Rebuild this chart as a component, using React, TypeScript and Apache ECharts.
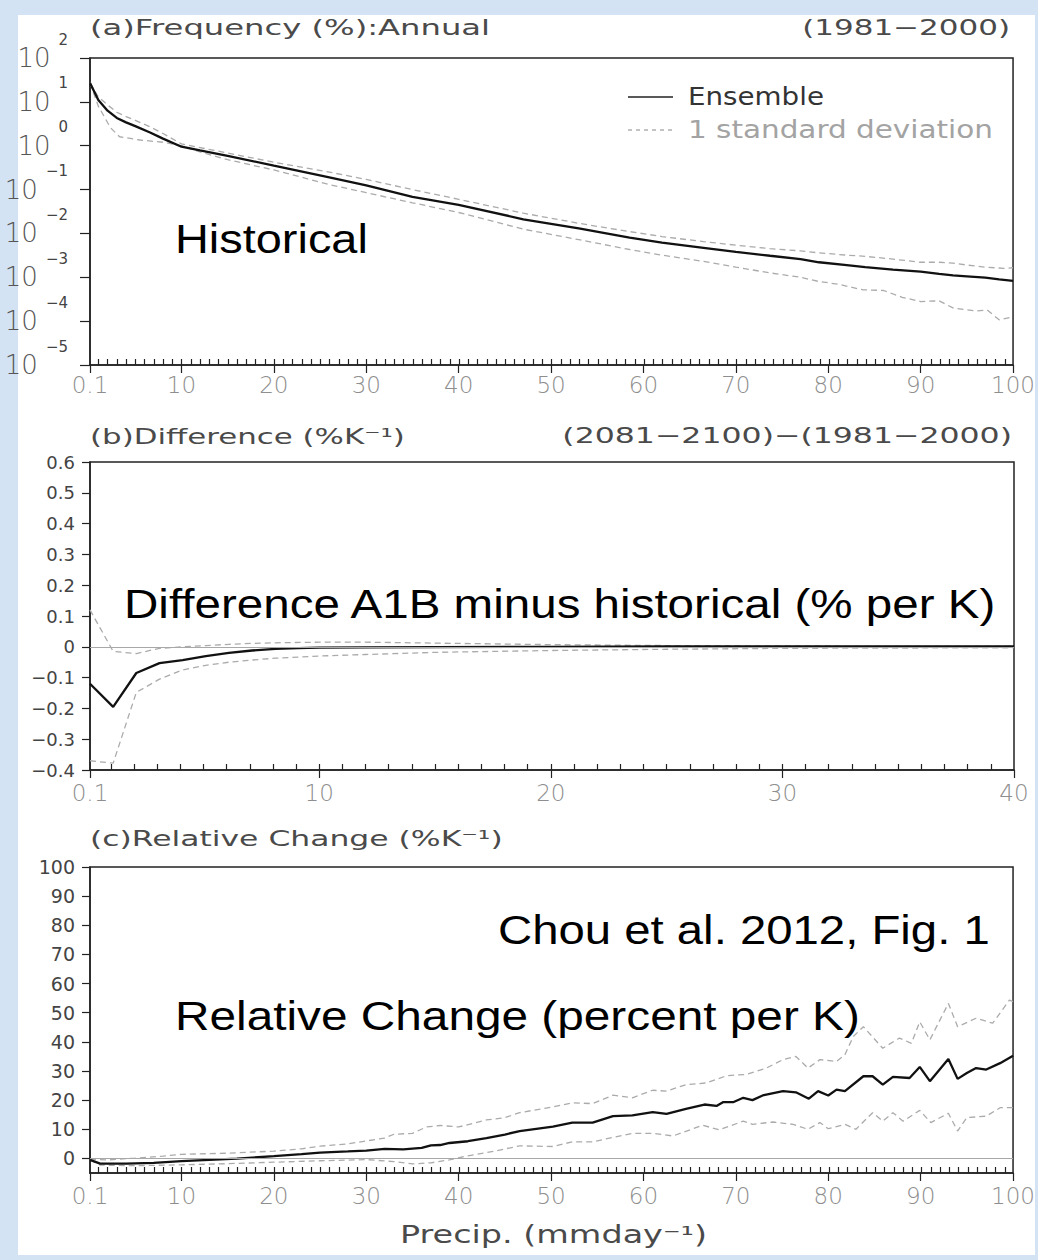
import React, { useEffect, useRef } from "react";
import * as echarts from "echarts";

// ---------- data ----------
// Panel (a): frequency (%) vs precip (mm/day), log scale
const freqEnsemble = [
  [0.1, 27], [1, 11], [2, 6.3], [3, 4.3], [4, 3.4], [5, 2.8], [6.6, 2.0], [8, 1.45], [10, 0.95],
  [12, 0.78], [15, 0.59], [20, 0.35], [26, 0.19], [30, 0.125], [35, 0.068], [40, 0.045],
  [47, 0.021], [53, 0.013], [58.5, 0.008], [62, 0.0062], [66.5, 0.0047], [70, 0.0038],
  [73.7, 0.0031], [77, 0.0026], [79, 0.0022], [82, 0.0019], [84, 0.0017], [87, 0.0015],
  [90, 0.00135], [92, 0.0012], [93.5, 0.0011], [95, 0.00105], [97, 0.00098], [98.5, 0.0009],
  [100, 0.00083],
];
const freqUpper = [
  [0.1, 27], [1, 13], [2, 8.5], [3, 5.8], [4, 4.6], [5, 3.8], [6.6, 2.7], [8, 1.9], [10, 1.1],
  [15, 0.68], [20, 0.42], [26, 0.25], [30, 0.17], [35, 0.1], [40, 0.06], [47, 0.029],
  [53, 0.017], [58.5, 0.011], [62, 0.0085], [66.5, 0.0065], [70, 0.0054], [73.7, 0.0045],
  [77, 0.004], [79, 0.0036], [82, 0.0032], [84, 0.003], [87, 0.0026], [90, 0.0022],
  [92, 0.0022], [93.5, 0.0021], [95, 0.0019], [97, 0.0017], [99, 0.0016], [100, 0.00165],
];
const freqLower = [
  [0.1, 27], [1, 8], [2.3, 2.6], [3.3, 1.6], [5.5, 1.35], [8, 1.2], [10, 1.0], [12, 0.72],
  [15, 0.48], [20, 0.28], [26, 0.13], [30, 0.085], [35, 0.05], [40, 0.03], [47, 0.0125],
  [53, 0.0072], [58.5, 0.0043], [62, 0.0032], [66.5, 0.0023], [70, 0.0017], [73.7, 0.00126],
  [77, 0.001], [79, 0.0008], [81, 0.0007], [83.7, 0.00052], [86, 0.0005], [88, 0.00035],
  [90, 0.00028], [92, 0.00029], [93.5, 0.0002], [96, 0.00017], [97.2, 0.00018],
  [98.5, 0.000107], [100, 0.000126],
];

// Panel (b): difference (% per K)
const diffEnsemble = [
  [0.1, -0.12], [1.1, -0.195], [2.1, -0.085], [3.1, -0.053], [4.1, -0.043], [5.1, -0.03],
  [6.1, -0.02], [7.1, -0.012], [8.1, -0.007], [9.1, -0.004], [10, -0.003], [12, -0.002],
  [15, -0.001], [20, 0], [25, 0.001], [30, 0.001], [35, 0.001], [40, 0.001],
];
const diffUpper = [
  [0.1, 0.12], [1.1, -0.015], [2.1, -0.022], [3.1, -0.005], [4.1, 0.0], [5.1, 0.004],
  [6.1, 0.008], [7.1, 0.011], [8.1, 0.013], [10, 0.015], [12, 0.015], [15, 0.012],
  [18, 0.009], [20, 0.007], [25, 0.004], [30, 0.003], [35, 0.002], [40, 0.002],
];
const diffLower = [
  [0.1, -0.37], [1.1, -0.378], [2.1, -0.148], [3.1, -0.105], [4.1, -0.075], [5.1, -0.06],
  [6.1, -0.05], [7.1, -0.043], [8.1, -0.037], [10, -0.03], [12, -0.025], [15, -0.018],
  [20, -0.012], [25, -0.008], [30, -0.005], [35, -0.004], [40, -0.003],
];

// Panel (c): relative change (% per K)
const relEnsemble = [
  [0.1, -0.5], [1.2, -1.8], [4, -1.8], [7, -1.5], [10, -0.9], [13, -0.5], [16, -0.1], [20, 0.8],
  [23, 1.5], [25, 2.0], [28, 2.4], [30, 2.7], [32, 3.3], [34, 3.1], [36, 3.6], [37, 4.5],
  [38, 4.6], [39, 5.3], [41, 5.9], [43, 7.0], [45, 8.2], [46.6, 9.4], [50.2, 10.9], [52.3, 12.3],
  [54.5, 12.3], [56.7, 14.5], [58.8, 14.8], [61, 15.9], [62.5, 15.3], [64.6, 17.0], [66.6, 18.5],
  [67.9, 18.0], [68.6, 19.3], [69.7, 19.3], [70.8, 20.8], [71.8, 20.0], [72.9, 21.6], [75.1, 23.1],
  [76.5, 22.7], [77.9, 20.5], [78.9, 23.1], [80, 21.6], [80.9, 23.6], [81.8, 23.1], [83.8, 28.2],
  [84.8, 28.2], [85.9, 25.3], [87, 28.0], [88.8, 27.6], [89.9, 31.4], [91, 26.5], [93, 34.1],
  [94, 27.3], [95, 29.3], [96, 31.0], [97.1, 30.5], [98.6, 32.7], [100, 35.2],
];
const relUpper = [
  [0.1, -0.3], [2, -0.5], [5, 0.1], [8, 0.8], [10, 1.4], [15, 1.8], [20, 2.5], [23, 3.3],
  [25, 4.2], [28, 5.0], [30, 6.0], [32, 7.0], [33, 8.3], [35, 8.6], [36.5, 10.8], [38, 11.3],
  [40, 10.8], [43, 13.2], [45, 14.0], [46.6, 15.7], [50.2, 17.7], [52.3, 19.1], [54.5, 18.8],
  [56.7, 21.7], [58.8, 20.8], [61, 23.4], [62.5, 23.1], [64.6, 25.3], [66.8, 25.9], [69, 28.4],
  [71.1, 28.8], [73.3, 31.0], [75.1, 33.9], [76.5, 35.0], [77.8, 31.0], [79.1, 33.9],
  [80.9, 33.3], [81.8, 35.6], [82.7, 41.8], [83.8, 45.2], [85.9, 37.8], [87.7, 41.3], [89, 39.5],
  [89.9, 46.9], [91, 40.7], [93, 53.2], [94, 45.2], [96, 48.1], [97.8, 46.4], [99.6, 54.3],
  [100, 53.8],
];
const relLower = [
  [0.1, -0.5], [1.2, -2.3], [5, -2.5], [10, -2.2], [15, -1.8], [20, -1.3], [25, -0.8],
  [30, -0.4], [33, -1.1], [35, -1.9], [37, -1.5], [39, -0.5], [41, 0.9], [44, 2.6], [46.6, 4.3],
  [50.2, 4.1], [52.3, 5.7], [54.5, 5.7], [56.7, 7.2], [58.8, 8.6], [61, 8.6], [63.2, 7.7],
  [66.4, 11.4], [68.2, 9.8], [70.8, 12.8], [71.8, 11.7], [74, 12.5], [76.2, 11.7], [77.8, 10.0],
  [79.1, 12.3], [80, 10.2], [81.8, 11.7], [83, 10.0], [84.8, 15.7], [85.9, 12.8], [87, 15.7],
  [88.1, 12.8], [89.9, 16.5], [91.1, 12.3], [93, 15.5], [94, 9.4], [95, 14.0], [97.1, 14.5],
  [98.6, 17.4], [100, 17.4],
];

// tick labels
const xTicks100 = [0.1, 10, 20, 30, 40, 50, 60, 70, 80, 90, 100];
const xTicks40 = [0.1, 10, 20, 30, 40];
const yTicksRel = [0, 10, 20, 30, 40, 50, 60, 70, 80, 90, 100];

// ---------- styling ----------
const HF = '"DejaVu Sans", sans-serif';
const AF = '"Liberation Sans", Arial, sans-serif';
const BG = "#d3e3f4";
const AXIS = "#222";

function intRange(a: number, b: number) {
  const r: number[] = [];
  for (let i = a; i <= b; i++) r.push(i);
  return r;
}

let measureCtx: CanvasRenderingContext2D | null = null;
function measure(text: string, size: number, weight: string | number, family: string) {
  if (!measureCtx) measureCtx = document.createElement("canvas").getContext("2d");
  measureCtx!.font = `${weight} ${size}px ${family}`;
  return measureCtx!.measureText(text).width;
}

function fitText(
  text: string, x: number, y: number, size: number, width: number,
  align: "left" | "right", color: string, family: string, weight: string | number
) {
  const w = measure(text, size, weight, family) || width;
  return {
    type: "text",
    x, y,
    scaleX: width / w,
    silent: true,
    z: 50,
    style: {
      text, fontSize: size, fontFamily: family, fontWeight: weight, fill: color,
      align, textAlign: align, verticalAlign: "middle", textVerticalAlign: "middle",
    },
  };
}

const minus = (s: string) => s.replace("-", "\u2212");

function mainX(grid: number, max: number, ticks: number[], labelMargin: number) {
  return {
    type: "value", gridIndex: grid, min: 0.1, max,
    axisLine: { show: true, onZero: false, lineStyle: { color: AXIS, width: 1.5 } },
    axisTick: { show: true, inside: false, length: 8, customValues: ticks, lineStyle: { color: AXIS, width: 1.2 } },
    axisLabel: {
      show: true, customValues: ticks, margin: labelMargin,
      formatter: (v: number) => String(v),
      color: "#8e8e8e", fontSize: 23, fontFamily: HF, fontWeight: 200,
    },
    splitLine: { show: false },
  };
}
function minorX(grid: number, max: number) {
  return {
    type: "value", gridIndex: grid, min: 0.1, max,
    axisLine: { show: false },
    axisTick: { show: true, inside: true, length: 6, customValues: intRange(1, max - 1), lineStyle: { color: AXIS, width: 1.2 } },
    axisLabel: { show: false },
    splitLine: { show: false },
  };
}
function hiddenY(grid: number) {
  return { type: "value", gridIndex: grid, min: 0, max: 1, show: false, splitLine: { show: false } };
}

function dashed(data: number[][], axis: number, zeroLine: boolean) {
  const s: any = {
    type: "line", xAxisIndex: axis, yAxisIndex: axis, data, symbol: "none", showSymbol: false,
    silent: true, z: 2,
    lineStyle: { color: "#ababab", width: 1.3, type: [6, 4] },
  };
  if (zeroLine) {
    s.markLine = {
      silent: true, symbol: ["none", "none"], label: { show: false },
      lineStyle: { color: "#a8a8a8", width: 1.2, type: "solid" },
      data: [{ yAxis: 0 }],
    };
  }
  return s;
}
function solid(data: number[][], axis: number) {
  return {
    type: "line", xAxisIndex: axis, yAxisIndex: axis, data, symbol: "none", showSymbol: false,
    silent: true, z: 3,
    lineStyle: { color: "#111", width: 2.3 },
  };
}

function buildOption() {
  const gA = { left: 90, top: 58, width: 924, height: 307 };
  const gB = { left: 90, top: 462, width: 924, height: 308 };
  const gC = { left: 90, top: 867, width: 924, height: 306 };
  const frame = { show: true, borderColor: AXIS, borderWidth: 1.5, backgroundColor: "transparent" };
  const TW = "normal";
  const TC = "#4a4a4a";

  const graphic = [
    fitText("(a)Frequency (%):Annual", 90, 27, 22, 400, "left", TC, HF, TW),
    fitText("(1981\u22122000)", 1010, 27, 22, 208, "right", TC, HF, TW),
    {
      type: "line", silent: true, z: 50,
      shape: { x1: 628, y1: 97, x2: 673, y2: 97 },
      style: { stroke: "#222", lineWidth: 1.5 },
    },
    fitText("Ensemble", 688, 97, 24, 136, "left", "#333", HF, TW),
    {
      type: "line", silent: true, z: 50,
      shape: { x1: 628, y1: 130, x2: 673, y2: 130 },
      style: { stroke: "#b0b0b0", lineWidth: 1.3, lineDash: [4, 4] },
    },
    fitText("1 standard deviation", 688, 130, 24, 305, "left", "#a3a3a3", HF, TW),
    fitText("(b)Difference (%K\u207B\u00B9)", 90, 436, 22, 315, "left", TC, HF, TW),
    fitText("(2081\u22122100)\u2212(1981\u22122000)", 1012, 435, 22, 450, "right", TC, HF, TW),
    fitText("(c)Relative Change (%K\u207B\u00B9)", 90, 838, 22, 413, "left", TC, HF, TW),
    fitText("Precip. (mmday\u207B\u00B9)", 400, 1235, 24, 307, "left", TC, HF, TW),
    fitText("Historical", 175, 239, 40, 193, "left", "#000", AF, "normal"),
    fitText("Difference A1B minus historical (% per K)", 124, 604, 40, 874, "left", "#000", AF, "normal"),
    fitText("Chou et al. 2012, Fig. 1", 498, 930, 40, 492, "left", "#000", AF, "normal"),
    fitText("Relative Change (percent per K)", 175, 1016, 40, 685, "left", "#000", AF, "normal"),
  ];

  return {
    animation: false,
    backgroundColor: "transparent",
    grid: [
      { ...gA, ...frame }, { ...gA, show: false },
      { ...gB, ...frame }, { ...gB, show: false },
      { ...gC, ...frame }, { ...gC, show: false },
    ],
    xAxis: [
      mainX(0, 100, xTicks100, 8), minorX(1, 100),
      mainX(2, 40, xTicks40, 11), minorX(3, 40),
      mainX(4, 100, xTicks100, 11), minorX(5, 100),
    ],
    yAxis: [
      {
        type: "log", logBase: 10, gridIndex: 0, min: 1e-5, max: 100, splitNumber: 7,
        axisLine: { show: true, onZero: false, lineStyle: { color: AXIS, width: 1.5 } },
        axisTick: { show: true, inside: false, length: 10, lineStyle: { color: AXIS, width: 1.2 } },
        axisLabel: {
          margin: 22,
          formatter: (v: number) => {
            const e = Math.round(Math.log10(v));
            return `{b|10}{e|${e < 0 ? "\u2212" : ""}${Math.abs(e)}}`;
          },
          rich: {
            b: { fontSize: 26, fontFamily: HF, fontWeight: 200, color: "#555", lineHeight: 52, verticalAlign: "middle" },
            e: { fontSize: 15, fontFamily: HF, fontWeight: "normal", color: "#444", lineHeight: 16, verticalAlign: "top", padding: [0, 0, 0, 8] },
          },
        },
        splitLine: { show: false },
      },
      hiddenY(1),
      {
        type: "value", gridIndex: 2, min: -0.4, max: 0.6, interval: 0.1,
        axisLine: { show: true, onZero: false, lineStyle: { color: AXIS, width: 1.5 } },
        axisTick: { show: true, inside: false, length: 8, lineStyle: { color: AXIS, width: 1.2 } },
        axisLabel: {
          margin: 15, color: "#444", fontSize: 18, fontFamily: HF, fontWeight: "normal",
          formatter: (v: number) => (Math.abs(v) < 1e-9 ? "0" : minus(v.toFixed(1))),
        },
        splitLine: { show: false },
      },
      hiddenY(3),
      {
        type: "value", gridIndex: 4, min: -5, max: 100,
        axisLine: { show: true, onZero: false, lineStyle: { color: AXIS, width: 1.5 } },
        axisTick: { show: true, inside: false, length: 8, customValues: yTicksRel, lineStyle: { color: AXIS, width: 1.2 } },
        axisLabel: {
          margin: 15, color: "#444", fontSize: 19, fontFamily: HF, fontWeight: "normal",
          customValues: yTicksRel, formatter: (v: number) => String(v),
        },
        splitLine: { show: false },
      },
      hiddenY(5),
    ],
    series: [
      dashed(freqUpper, 0, false),
      dashed(freqLower, 0, false),
      solid(freqEnsemble, 0),
      dashed(diffUpper, 2, true),
      dashed(diffLower, 2, false),
      solid(diffEnsemble, 2),
      dashed(relUpper, 4, true),
      dashed(relLower, 4, false),
      solid(relEnsemble, 4),
    ],
    graphic: { elements: graphic },
  };
}

export default function App() {
  const ref = useRef<HTMLDivElement>(null);
  useEffect(() => {
    if (!ref.current) return;
    const chart = echarts.init(ref.current, null, { renderer: "svg" });
    chart.setOption(buildOption() as any);
    return () => chart.dispose();
  }, []);
  return (
    <div style={{ position: "fixed", left: 0, top: 0, width: 1038, height: 1260, background: BG, overflow: "hidden" }}>
      <div style={{ position: "absolute", left: 18, top: 15, width: 1017, height: 1240, background: "#fff" }} />
      <div ref={ref} style={{ position: "absolute", left: 0, top: 0, width: 1038, height: 1260 }} />
      <div style={{ position: "absolute", left: 1035, top: 0, width: 3, height: 1260, background: BG }} />
      <div style={{ position: "absolute", left: 0, top: 1255, width: 1038, height: 5, background: BG }} />
    </div>
  );
}
